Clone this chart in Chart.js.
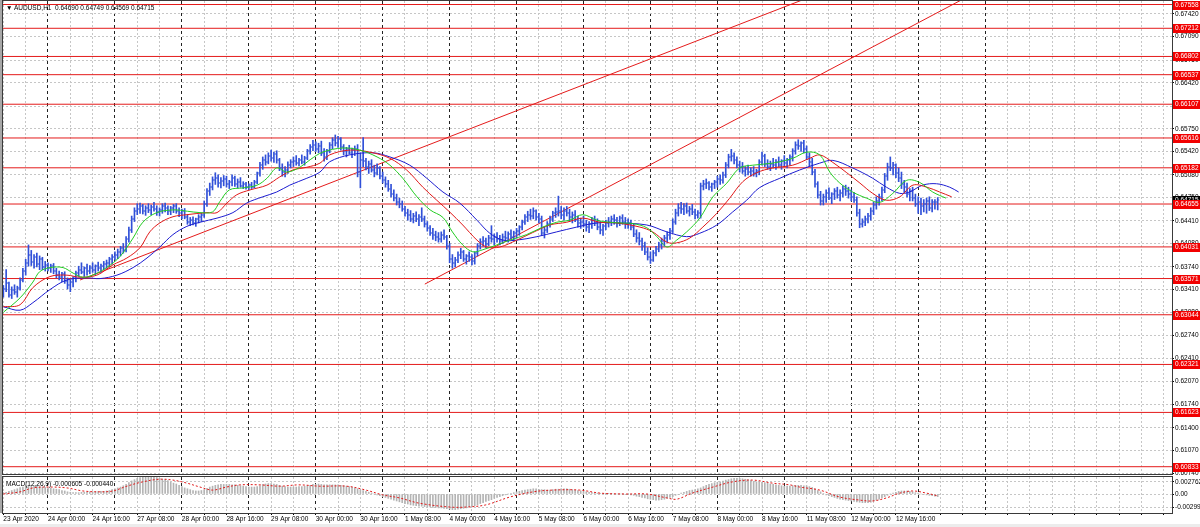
<!DOCTYPE html>
<html>
<head>
<meta charset="utf-8">
<script src="https://cdn.jsdelivr.net/npm/chart.js@4.4.0/dist/chart.umd.min.js"></script>
<style>
  body { margin: 0; background: #fff; }
  #wrap { position: relative; width: 1200px; height: 527px; overflow: hidden; background: #fff; }
  canvas { position: absolute; left: 0; }
  .txt { position: absolute; font: 6.5px "Liberation Sans", Arial, sans-serif; color: #000; white-space: pre; line-height: 8px; }
</style>
</head>
<body>
<div id="wrap">
  <canvas id="priceChart" width="1200" height="476" style="top:0"></canvas>
  <canvas id="macdChart" width="1200" height="51" style="top:476px"></canvas>
  <div style="position:absolute;left:0;top:0;width:2px;height:513px;background:#a8a8a8"></div>
  <div style="position:absolute;left:0;top:524px;width:1200px;height:3px;background:#ececec"></div>
  <div id="priceTitle" class="txt" style="left:6px;top:4px"></div>
  <div id="macdTitle" class="txt" style="left:6px;top:480px"></div>
</div>
<script>
const symbol = 'AUDUSD,H1';
const firstBarOpen = 0.6335;

// hourly bars, 23 Apr 08:00 .. 13 May 07:00
const highs = [
  0.6347,0.6370,0.6352,0.6345,0.6348,0.6346,0.6358,0.6372,0.6385,0.6406,0.6398,0.6392,
  0.6394,0.6390,0.6388,0.6382,0.6380,0.6378,0.6379,0.6372,0.6368,0.6366,0.6367,0.6358,
  0.6355,0.6360,0.6368,0.6375,0.6380,0.6374,0.6378,0.6376,0.6380,0.6377,0.6381,0.6378,
  0.6382,0.6384,0.6388,0.6392,0.6396,0.6400,0.6404,0.6408,0.6418,0.6432,0.6448,0.6460,
  0.6466,0.6467,0.6465,0.6463,0.6466,0.6464,0.6468,0.6463,0.6460,0.6466,0.6467,0.6463,
  0.6462,0.6465,0.6466,0.6460,0.6458,0.6459,0.6450,0.6446,0.6447,0.6445,0.6450,0.6452,
  0.6470,0.6488,0.6496,0.6505,0.6511,0.6508,0.6504,0.6507,0.6506,0.6500,0.6508,0.6506,
  0.6502,0.6504,0.6498,0.6497,0.6495,0.6497,0.6500,0.6512,0.6526,0.6534,0.6537,0.6540,
  0.6544,0.6541,0.6543,0.6532,0.6524,0.6520,0.6527,0.6530,0.6534,0.6536,0.6532,0.6537,
  0.6535,0.6545,0.6552,0.6558,0.6556,0.6554,0.6557,0.6546,0.6545,0.6555,0.6562,0.6566,
  0.6564,0.6562,0.6552,0.6548,0.6551,0.6547,0.6550,0.6552,0.6540,0.6562,0.6532,0.6528,
  0.6530,0.6522,0.6524,0.6520,0.6512,0.6505,0.6500,0.6494,0.6486,0.6480,0.6474,0.6470,
  0.6462,0.6458,0.6456,0.6452,0.6454,0.6450,0.6460,0.6448,0.6440,0.6434,0.6430,0.6426,
  0.6424,0.6425,0.6428,0.6420,0.6408,0.6392,0.6388,0.6396,0.6401,0.6398,0.6392,0.6396,
  0.6392,0.6396,0.6408,0.6415,0.6418,0.6416,0.6420,0.6434,0.6422,0.6424,0.6420,0.6422,
  0.6426,0.6425,0.6428,0.6426,0.6430,0.6434,0.6442,0.6450,0.6455,0.6458,0.6460,0.6457,
  0.6452,0.6448,0.6432,0.6440,0.6448,0.6455,0.6460,0.6477,0.6462,0.6460,0.6462,0.6458,
  0.6454,0.6456,0.6448,0.6445,0.6448,0.6442,0.6440,0.6446,0.6448,0.6444,0.6440,0.6436,
  0.6442,0.6446,0.6448,0.6450,0.6446,0.6448,0.6450,0.6446,0.6444,0.6442,0.6436,0.6428,
  0.6424,0.6416,0.6410,0.6402,0.6396,0.6398,0.6404,0.6410,0.6416,0.6420,0.6425,0.6430,
  0.6444,0.6458,0.6466,0.6468,0.6466,0.6467,0.6462,0.6465,0.6458,0.6456,0.6496,0.6500,
  0.6502,0.6498,0.6496,0.6500,0.6506,0.6508,0.6512,0.6526,0.6538,0.6545,0.6540,0.6534,
  0.6528,0.6526,0.6520,0.6522,0.6518,0.6520,0.6516,0.6530,0.6541,0.6538,0.6530,0.6528,
  0.6532,0.6530,0.6534,0.6530,0.6536,0.6532,0.6537,0.6546,0.6556,0.6559,0.6556,0.6558,
  0.6550,0.6540,0.6532,0.6516,0.6498,0.6484,0.6480,0.6486,0.6489,0.6482,0.6488,0.6490,
  0.6486,0.6492,0.6493,0.6490,0.6486,0.6482,0.6476,0.6458,0.6444,0.6448,0.6452,0.6460,
  0.6468,0.6476,0.6480,0.6490,0.6510,0.6525,0.6534,0.6526,0.6524,0.6518,0.6512,0.6500,
  0.6496,0.6488,0.6490,0.6480,0.6476,0.6474,0.6472,0.6474,0.6476,0.6472,0.6472,0.64749
];
const lows = [
  0.6330,0.6338,0.6330,0.6328,0.6334,0.6330,0.6340,0.6352,0.6362,0.6375,0.6376,0.6372,
  0.6374,0.6370,0.6370,0.6368,0.6368,0.6366,0.6364,0.6358,0.6355,0.6352,0.6350,0.6342,
  0.6338,0.6345,0.6352,0.6360,0.6364,0.6360,0.6362,0.6364,0.6366,0.6363,0.6368,0.6366,
  0.6370,0.6372,0.6374,0.6378,0.6384,0.6386,0.6390,0.6394,0.6396,0.6410,0.6424,0.6440,
  0.6450,0.6452,0.6451,0.6449,0.6453,0.6450,0.6455,0.6449,0.6448,0.6452,0.6454,0.6450,
  0.6450,0.6453,0.6452,0.6447,0.6444,0.6444,0.6436,0.6434,0.6435,0.6433,0.6438,0.6440,
  0.6446,0.6462,0.6478,0.6486,0.6494,0.6490,0.6489,0.6492,0.6490,0.6488,0.6492,0.6491,
  0.6489,0.6490,0.6488,0.6487,0.6486,0.6488,0.6489,0.6495,0.6506,0.6516,0.6522,0.6524,
  0.6528,0.6526,0.6525,0.6514,0.6506,0.6505,0.6510,0.6518,0.6520,0.6522,0.6521,0.6524,
  0.6522,0.6530,0.6538,0.6543,0.6542,0.6540,0.6536,0.6528,0.6530,0.6540,0.6546,0.6550,
  0.6548,0.6544,0.6537,0.6534,0.6538,0.6533,0.6536,0.6505,0.6489,0.6520,0.6515,0.6510,
  0.6512,0.6505,0.6508,0.6502,0.6496,0.6490,0.6484,0.6476,0.6470,0.6464,0.6460,0.6455,
  0.6448,0.6442,0.6440,0.6438,0.6440,0.6434,0.6440,0.6432,0.6426,0.6420,0.6414,0.6412,
  0.6410,0.6410,0.6414,0.6400,0.6380,0.6372,0.6374,0.6380,0.6386,0.6382,0.6378,0.6382,
  0.6377,0.6378,0.6390,0.6400,0.6404,0.6402,0.6405,0.6410,0.6406,0.6410,0.6406,0.6408,
  0.6412,0.6410,0.6414,0.6412,0.6416,0.6420,0.6428,0.6436,0.6440,0.6443,0.6444,0.6442,
  0.6438,0.6420,0.6416,0.6424,0.6432,0.6440,0.6446,0.6448,0.6444,0.6442,0.6448,0.6440,
  0.6438,0.6440,0.6432,0.6430,0.6432,0.6426,0.6424,0.6430,0.6434,0.6428,0.6422,0.6420,
  0.6428,0.6432,0.6434,0.6436,0.6432,0.6434,0.6436,0.6430,0.6430,0.6428,0.6418,0.6410,
  0.6406,0.6398,0.6392,0.6384,0.6379,0.6382,0.6390,0.6396,0.6400,0.6404,0.6410,0.6414,
  0.6424,0.6436,0.6448,0.6452,0.6450,0.6452,0.6448,0.6450,0.6444,0.6445,0.6445,0.6486,
  0.6488,0.6486,0.6484,0.6488,0.6490,0.6494,0.6496,0.6504,0.6518,0.6528,0.6524,0.6518,
  0.6512,0.6510,0.6506,0.6508,0.6506,0.6506,0.6505,0.6508,0.6522,0.6520,0.6516,0.6514,
  0.6518,0.6516,0.6520,0.6516,0.6520,0.6518,0.6522,0.6528,0.6538,0.6545,0.6542,0.6540,
  0.6530,0.6520,0.6508,0.6490,0.6474,0.6464,0.6464,0.6468,0.6472,0.6466,0.6472,0.6474,
  0.6470,0.6476,0.6478,0.6474,0.6470,0.6468,0.6448,0.6431,0.6432,0.6434,0.6438,0.6442,
  0.6450,0.6458,0.6464,0.6470,0.6482,0.6500,0.6514,0.6508,0.6504,0.6498,0.6488,0.6482,
  0.6476,0.6470,0.6470,0.6462,0.6452,0.6450,0.6454,0.6452,0.6456,0.6454,0.6458,0.64569
];
const closes = [
  0.6342,0.6350,0.6333,0.6340,0.6337,0.6344,0.6355,0.6368,0.6380,0.6392,0.6381,0.6388,
  0.6378,0.6385,0.6374,0.6377,0.6372,0.6375,0.6368,0.6362,0.6360,0.6364,0.6354,0.6348,
  0.6352,0.6358,0.6365,0.6370,0.6366,0.6372,0.6368,0.6373,0.6370,0.6375,0.6372,0.6376,
  0.6378,0.6380,0.6385,0.6389,0.6392,0.6395,0.6401,0.6398,0.6415,0.6428,0.6444,0.6455,
  0.6458,0.6462,0.6455,0.6460,0.6457,0.6461,0.6458,0.6454,0.6457,0.6463,0.6459,0.6456,
  0.6460,0.6462,0.6456,0.6452,0.6455,0.6447,0.6440,0.6442,0.6438,0.6443,0.6446,0.6449,
  0.6466,0.6484,0.6490,0.6500,0.6504,0.6496,0.6499,0.6502,0.6494,0.6497,0.6503,0.6495,
  0.6498,0.6492,0.6494,0.6490,0.6493,0.6491,0.6497,0.6510,0.6522,0.6530,0.6527,0.6536,
  0.6532,0.6538,0.6529,0.6518,0.6512,0.6515,0.6523,0.6526,0.6528,0.6525,0.6530,0.6527,
  0.6533,0.6542,0.6548,0.6552,0.6546,0.6550,0.6540,0.6534,0.6543,0.6552,0.6558,0.6555,
  0.6560,0.6548,0.6542,0.6545,0.6540,0.6544,0.6546,0.6512,0.6530,0.6528,0.6520,0.6524,
  0.6515,0.6510,0.6518,0.6506,0.6500,0.6494,0.6488,0.6480,0.6474,0.6468,0.6466,0.6458,
  0.6452,0.6450,0.6444,0.6448,0.6443,0.6446,0.6444,0.6436,0.6430,0.6424,0.6420,0.6418,
  0.6415,0.6420,0.6418,0.6404,0.6386,0.6380,0.6384,0.6392,0.6395,0.6386,0.6390,0.6388,
  0.6382,0.6394,0.6405,0.6410,0.6412,0.6408,0.6416,0.6414,0.6418,0.6415,0.6412,0.6418,
  0.6416,0.6422,0.6418,0.6424,0.6426,0.6432,0.6440,0.6446,0.6450,0.6448,0.6455,0.6446,
  0.6444,0.6424,0.6428,0.6436,0.6444,0.6452,0.6454,0.6456,0.6450,0.6455,0.6452,0.6446,
  0.6450,0.6442,0.6438,0.6440,0.6436,0.6432,0.6436,0.6442,0.6438,0.6432,0.6428,0.6434,
  0.6438,0.6440,0.6444,0.6442,0.6438,0.6445,0.6440,0.6436,0.6438,0.6432,0.6422,0.6416,
  0.6412,0.6404,0.6396,0.6388,0.6384,0.6394,0.6400,0.6406,0.6412,0.6416,0.6420,0.6426,
  0.6440,0.6452,0.6460,0.6458,0.6462,0.6456,0.6458,0.6454,0.6450,0.6452,0.6492,0.6494,
  0.6496,0.6490,0.6494,0.6498,0.6502,0.6500,0.6508,0.6522,0.6534,0.6536,0.6530,0.6522,
  0.6520,0.6514,0.6516,0.6512,0.6514,0.6510,0.6513,0.6526,0.6536,0.6524,0.6520,0.6524,
  0.6522,0.6526,0.6523,0.6528,0.6525,0.6530,0.6534,0.6542,0.6552,0.6550,0.6554,0.6546,
  0.6534,0.6526,0.6512,0.6494,0.6478,0.6470,0.6476,0.6482,0.6474,0.6480,0.6484,0.6478,
  0.6482,0.6488,0.6484,0.6480,0.6476,0.6472,0.6452,0.6436,0.6440,0.6444,0.6448,0.6456,
  0.6464,0.6470,0.6476,0.6486,0.6506,0.6520,0.6518,0.6522,0.6510,0.6504,0.6494,0.6490,
  0.6480,0.6484,0.6474,0.6466,0.6468,0.6462,0.6466,0.6470,0.6460,0.6468,0.6469,0.64715
];

// alligator lines: [bar, price]
const lipsLine = [
  [0,0.6308],[6,0.6329],[10.6,0.6352],[13,0.6367],[16.7,0.6373],[21.4,0.6373],[25,0.6365],[28.5,0.6359],
  [32,0.6362],[37,0.6373],[41.8,0.6389],[46.5,0.6416],[50,0.6439],[55,0.6453],[61,0.6457],[66,0.6455],
  [70.5,0.6453],[75,0.6454],[77.6,0.6469],[81,0.6486],[86,0.6489],[91,0.6493],[94.5,0.6503],[98,0.6518],
  [101.7,0.6512],[106.3,0.6519],[110,0.6530],[114.5,0.6541],[121.7,0.6547],[127.8,0.6544],[134,0.6534],
  [138.6,0.6522],[143.2,0.6503],[148.3,0.6476],[153,0.6457],[157.6,0.6446],[161,0.6425],[164.7,0.6406],
  [168.3,0.6396],[171.9,0.6399],[176.9,0.6406],[181.6,0.6413],[187.6,0.6421],[193.4,0.6432],[198.4,0.6439],
  [203,0.6442],[207.7,0.6450],[212.8,0.6442],[217.4,0.6439],[221,0.6438],[225.7,0.6437],[230.7,0.6431],
  [234.3,0.6418],[237.9,0.6403],[241.4,0.6413],[245,0.6425],[249.7,0.6445],[254.4,0.6476],[259.4,0.6496],
  [264,0.6518],[268.7,0.6522],[275.8,0.6525],[283,0.6532],[288,0.6541],[292.7,0.6537],[296.3,0.6512],
  [299.9,0.6496],[304.5,0.6483],[309.5,0.6474],[314.2,0.6468],[318.9,0.6481],[323.9,0.6500],[328.5,0.6497],
  [333.2,0.6483],[338,0.6474]
];
const teethLine = [
  [0,0.6316],[6,0.6319],[10.6,0.6344],[16.7,0.6360],[22.8,0.6362],[27.5,0.6359],[33.5,0.6362],[39.3,0.6377],
  [44.3,0.6387],[49,0.6402],[52.5,0.6425],[56.1,0.6438],[60.8,0.6447],[65.8,0.6450],[73,0.6453],[76.6,0.6453],
  [80.2,0.6467],[83.7,0.6479],[88.4,0.6486],[94.5,0.6493],[99.1,0.6505],[103.8,0.6515],[108.8,0.6519],
  [113.5,0.6525],[117,0.6537],[124.2,0.6544],[131.4,0.6541],[138.6,0.6532],[144.6,0.6515],[150.4,0.6490],
  [155.4,0.6471],[160,0.6454],[164.7,0.6435],[169.8,0.6413],[173.3,0.6403],[178,0.6403],[184.1,0.6413],
  [189.8,0.6424],[195.9,0.6435],[202,0.6439],[207.7,0.6445],[213.8,0.6439],[219.9,0.6438],[228.2,0.6432],
  [232.8,0.6425],[237.9,0.6410],[241.4,0.6409],[246.1,0.6416],[250.8,0.6432],[255.8,0.6452],[260.4,0.6474],
  [265.1,0.6498],[270.1,0.6511],[275.8,0.6518],[283,0.6522],[289.1,0.6532],[292.7,0.6537],[297.4,0.6526],
  [302.4,0.6511],[307.1,0.6496],[311.7,0.6481],[316.6,0.6471],[321.4,0.6476],[326.1,0.6493],[331.1,0.6490],
  [335.7,0.6483],[340,0.6476]
];
const jawLine = [
  [0,0.6316],[6,0.6311],[10.6,0.6322],[16.7,0.6341],[22.8,0.6355],[30,0.6358],[34.6,0.6357],[40.7,0.6362],
  [46.5,0.6373],[51.5,0.6387],[56.1,0.6403],[60.8,0.6421],[65.8,0.6433],[70.5,0.6439],[76.6,0.6445],
  [82.3,0.6453],[87.3,0.6467],[93,0.6476],[98,0.6483],[102.7,0.6493],[108.8,0.6503],[113.5,0.6512],
  [117,0.6527],[124.2,0.6537],[132.5,0.6540],[138.6,0.6534],[145.7,0.6522],[151.8,0.6503],[157.6,0.6483],
  [163.6,0.6467],[169.8,0.6442],[174.4,0.6423],[179.1,0.6413],[184.1,0.6413],[191.3,0.6418],[198.4,0.6425],
  [205.6,0.6432],[212.8,0.6438],[219.9,0.6438],[230.7,0.6435],[237.9,0.6425],[245,0.6418],[249.7,0.6423],
  [255.8,0.6435],[261.5,0.6454],[266.5,0.6471],[271,0.6489],[278.4,0.6503],[285.5,0.6515],[292.7,0.6525],
  [297.4,0.6529],[304.5,0.6518],[311.7,0.6503],[316.6,0.6490],[321.4,0.6481],[324.9,0.6483],[329.6,0.6493],
  [334.6,0.6495],[339.3,0.6490],[342.5,0.6483]
];

const levels = [0.67558, 0.67212, 0.66802, 0.66537, 0.66107, 0.65616, 0.65182,
                0.64655, 0.64031, 0.63571, 0.63044, 0.62321, 0.61623, 0.60833];
const trendLines = [
  [[27.5, 0.6355], [290, 0.6768]],
  [[151.1, 0.6349], [345, 0.67657]]
];

const priceTicks = [0.6742, 0.6709, 0.6675, 0.6642, 0.6608, 0.6575, 0.6542, 0.6508, 0.6475, 0.6441, 0.6408,
                    0.6374, 0.6341, 0.6308, 0.6274, 0.6241, 0.6207, 0.6174, 0.6140, 0.6107, 0.6074];
const timeLabels = ['23 Apr 2020', '24 Apr 00:00', '24 Apr 16:00', '27 Apr 08:00', '28 Apr 00:00', '28 Apr 16:00',
                    '29 Apr 08:00', '30 Apr 00:00', '30 Apr 16:00', '1 May 08:00', '4 May 00:00', '4 May 16:00',
                    '5 May 08:00', '6 May 00:00', '6 May 16:00', '7 May 08:00', '8 May 00:00', '8 May 16:00',
                    '11 May 08:00', '12 May 00:00', '12 May 16:00'];
const daySeparators = [16, 40, 64, 88, 112, 136, 160, 184, 208, 232, 256, 280, 304, 328, 352];

const macdMain = [
  0.0003,0.0004,0.0006,0.0008,0.0010,0.0012,0.0015,0.0016,0.0018,0.0019,0.0019,0.0018,
  0.0018,0.0017,0.0016,0.0015,0.0014,0.0013,0.0012,0.0011,0.0010,0.0008,0.0007,0.0005,
  0.0004,0.0003,0.0003,0.0003,0.0004,0.0004,0.0004,0.0005,0.0005,0.0005,0.0006,0.0006,
  0.0006,0.0007,0.0008,0.0010,0.0012,0.0014,0.0016,0.0019,0.0022,0.0026,0.0030,0.0033,
  0.0036,0.0038,0.0040,0.0040,0.0040,0.0039,0.0039,0.0038,0.0036,0.0034,0.0033,0.0031,
  0.0027,0.0025,0.0023,0.0020,0.0017,0.0014,0.0012,0.0010,0.0008,0.0007,0.0007,0.0008,
  0.0010,0.0013,0.0016,0.0018,0.0020,0.0021,0.0022,0.0022,0.0022,0.0022,0.0021,0.0021,
  0.0020,0.0019,0.0018,0.0017,0.0016,0.0016,0.0016,0.0017,0.0019,0.0022,0.0023,0.0024,
  0.0024,0.0023,0.0022,0.0020,0.0018,0.0017,0.0016,0.0016,0.0016,0.0016,0.0017,0.0017,
  0.0018,0.0019,0.0020,0.0022,0.0022,0.0023,0.0022,0.0021,0.0021,0.0021,0.0021,0.0021,
  0.0021,0.0020,0.0019,0.0018,0.0017,0.0016,0.0014,0.0012,0.0010,0.0008,0.0006,0.0004,
  0.0002,0.0000,-0.0002,-0.0004,-0.0006,-0.0008,-0.0010,-0.0012,-0.0014,-0.0016,-0.0018,-0.0020,
  -0.0022,-0.0023,-0.0025,-0.0026,-0.0027,-0.0028,-0.0028,-0.0029,-0.0030,-0.0030,-0.0031,-0.0031,
  -0.0032,-0.0032,-0.0033,-0.0034,-0.0035,-0.0036,-0.0036,-0.0035,-0.0034,-0.0033,-0.0032,-0.0030,
  -0.0029,-0.0027,-0.0025,-0.0022,-0.0020,-0.0017,-0.0015,-0.0013,-0.0010,-0.0008,-0.0006,-0.0004,
  -0.0002,0.0000,0.0001,0.0003,0.0005,0.0006,0.0008,0.0009,0.0010,0.0011,0.0012,0.0012,
  0.0011,0.0010,0.0010,0.0009,0.0009,0.0010,0.0011,0.0011,0.0012,0.0012,0.0012,0.0011,
  0.0010,0.0009,0.0008,0.0007,0.0006,0.0005,0.0004,0.0003,0.0002,0.0002,0.0001,0.0001,
  0.0001,0.0001,0.0001,0.0000,0.0000,0.0000,0.0000,-0.0001,-0.0001,-0.0002,-0.0003,-0.0005,
  -0.0006,-0.0008,-0.0009,-0.0011,-0.0012,-0.0013,-0.0014,-0.0014,-0.0013,-0.0012,-0.0010,-0.0008,
  -0.0006,-0.0003,-0.0001,0.0002,0.0004,0.0006,0.0008,0.0009,0.0010,0.0012,0.0014,0.0017,
  0.0020,0.0022,0.0024,0.0026,0.0027,0.0028,0.0030,0.0032,0.0033,0.0035,0.0036,0.0036,
  0.0036,0.0035,0.0034,0.0033,0.0031,0.0029,0.0028,0.0027,0.0027,0.0026,0.0025,0.0023,
  0.0022,0.0021,0.0020,0.0019,0.0018,0.0018,0.0018,0.0019,0.0020,0.0020,0.0020,0.0019,
  0.0019,0.0017,0.0015,0.0012,0.0008,0.0005,0.0001,-0.0002,-0.0004,-0.0006,-0.0008,-0.0010,
  -0.0012,-0.0013,-0.0014,-0.0015,-0.0016,-0.0017,-0.0018,-0.0019,-0.0020,-0.0020,-0.0020,-0.0019,
  -0.0016,-0.0014,-0.0012,-0.0009,-0.0006,-0.0003,0.0000,0.0002,0.0004,0.0006,0.0007,0.0007,
  0.0007,0.0006,0.0005,0.0003,0.0002,0.0000,-0.0001,-0.0002,-0.0003,-0.0004,-0.0005,-0.000605
];
const macdSignal = [
  [0,0.0000],[6,0.0005],[10.6,0.0014],[16.7,0.0016],[22.8,0.0014],[28.5,0.0007],[34.6,0.0005],[39.3,0.0007],
  [44.3,0.0018],[50,0.0028],[56,0.0034],[60.8,0.0032],[65.8,0.0025],[70.5,0.0016],[75,0.0009],[80,0.0016],
  [84.8,0.0021],[92,0.0021],[99,0.0018],[106,0.0021],[113.5,0.0018],[123,0.0018],[130,0.0009],[136,-0.0002],
  [142,-0.0009],[149,-0.0021],[160,-0.0030],[166,-0.0030],[173,-0.0025],[181.6,-0.0007],[190,0.0005],
  [197,0.0009],[206.7,0.0009],[214,0.0002],[223.5,0.0000],[230.7,0.0000],[237.9,-0.0009],[241.4,-0.0012],
  [247,0.0002],[254.4,0.0016],[261.5,0.0028],[268.7,0.0032],[275.8,0.0025],[282,0.0021],[285.5,0.0016],
  [292.7,0.0009],[299.9,-0.0007],[307,-0.0014],[311.7,-0.0016],[316.6,-0.0009],[321.4,0.0002],[326,0.0007],
  [331,0.0002],[335,-0.00044]
];
const macdTicks = [0.002762, 0, -0.00299];
const macdTickLabels = ['0.002762', '0.00', '-0.00299'];

// ---- view settings
const X_MIN = -0.49, X_MAX = 419;
const PRICE_MIN = 0.60727, PRICE_MAX = 0.67609;
const MACD_MIN = -0.00437, MACD_MAX = 0.00391;
const FONT = '"Liberation Sans", Arial, sans-serif';
const BAR_BLUE = '#3050d8';
const LEVEL_RED = '#e41b1b';
const GRID_GRAY = '#c6c6c6';
const FRAME = '#3a3a3a';

Chart.defaults.font.family = FONT;
Chart.defaults.font.size = 6.5;
Chart.defaults.color = '#000';

const bars = closes.map((c, i) => i);
const opens = closes.map((c, i) => i === 0 ? firstBarOpen : closes[i - 1]);
const last = closes.length - 1;

const gridBars = [];
for (let b = 0; b <= 416; b += 8) gridBars.push(b);

const isSeparator = ctx => ctx.tick && daySeparators.includes(ctx.tick.value);
const xGridColor = ctx => isSeparator(ctx) ? '#222' : GRID_GRAY;
const xGridDash = ctx => !ctx.tick ? [] : (isSeparator(ctx) ? [3, 3] : [2, 2]);

// keep the plot area exactly where the layout padding puts it
const noAxisPadding = s => { s.paddingTop = 0; s.paddingBottom = 0; s.paddingLeft = 0; s.paddingRight = 0; };

function xScale(showLabels) {
  return {
    type: 'linear',
    min: X_MIN,
    max: X_MAX,
    offset: false,
    afterBuildTicks: s => { s.ticks = gridBars.map(v => ({ value: v })); },
    afterFit: s => { s.height = showLabels ? 14 : 0; noAxisPadding(s); },
    ticks: {
      display: showLabels,
      autoSkip: false,
      maxRotation: 0,
      align: 'start',
      padding: 0,
      color: '#000',
      callback: v => (v % 16 === 0 && timeLabels[v / 16]) || ''
    },
    grid: {
      color: xGridColor,
      offset: false,
      drawTicks: showLabels,
      tickLength: 2,
      tickColor: '#000',
      tickBorderDash: []
    },
    border: { display: true, color: FRAME, dash: xGridDash }
  };
}

function yScale(min, max, ticks, label) {
  return {
    position: 'right',
    min: min,
    max: max,
    afterBuildTicks: s => { s.ticks = ticks.map(v => ({ value: v })); },
    afterFit: s => { s.width = 28; noAxisPadding(s); },
    ticks: { color: '#000', padding: 1, autoSkip: false, callback: label },
    grid: { color: GRID_GRAY, tickColor: '#000', tickLength: 2, tickBorderDash: [] },
    border: { display: true, color: FRAME, dash: [2, 2] }
  };
}

const frame = {
  id: 'frame',
  afterDraw(chart) {
    const { ctx, chartArea: a } = chart;
    ctx.save();
    ctx.strokeStyle = FRAME;
    ctx.lineWidth = 1;
    ctx.strokeRect(a.left + 0.5, a.top - 0.5, a.right - a.left, a.bottom - a.top + 1);
    ctx.restore();
  }
};

// open / close ticks of each bar
const ohlcTicks = {
  id: 'ohlcTicks',
  afterDatasetDraw(chart, args) {
    if (args.meta.type !== 'bar') return;
    const { ctx, scales: { x, y } } = chart;
    ctx.save();
    ctx.fillStyle = BAR_BLUE;
    bars.forEach(i => {
      const px = x.getPixelForValue(i);
      ctx.fillRect(px - 1.5, Math.round(y.getPixelForValue(opens[i])) - 0.5, 1, 1);
      ctx.fillRect(px + 0.5, Math.round(y.getPixelForValue(closes[i])) - 0.5, 1, 1);
    });
    ctx.restore();
  }
};

// price tags on the right axis
const axisTags = {
  id: 'axisTags',
  afterDraw(chart) {
    const { ctx, scales: { y }, chartArea } = chart;
    ctx.save();
    ctx.font = '6.5px ' + FONT;
    ctx.textBaseline = 'middle';
    const tag = (value, bg) => {
      const py = Math.round(y.getPixelForValue(value));
      ctx.fillStyle = bg;
      ctx.fillRect(chartArea.right + 1, py - 4, 28, 9);
      ctx.fillStyle = '#fff';
      ctx.fillText(value.toFixed(5), chartArea.right + 3, py + 0.5);
    };
    tag(closes[last], '#000');
    levels.forEach(l => tag(l, '#f20000'));
    ctx.restore();
  }
};

const priceDatasets = [];
levels.forEach(l => priceDatasets.push({
  type: 'line', data: [{ x: X_MIN, y: l }, { x: X_MAX, y: l }],
  borderColor: LEVEL_RED, borderWidth: 1, pointRadius: 0, order: 6
}));
trendLines.forEach(t => priceDatasets.push({
  type: 'line', data: t.map(([x, y]) => ({ x, y })),
  borderColor: LEVEL_RED, borderWidth: 1, pointRadius: 0, order: 5
}));
priceDatasets.push({
  type: 'bar',
  data: bars.map(i => ({ x: i, y: [lows[i], highs[i]] })),
  backgroundColor: BAR_BLUE,
  barThickness: 1,
  grouped: false,
  order: 4
});
[[jawLine, '#1c1cd0'], [teethLine, '#e01818'], [lipsLine, '#22cc22']].forEach(([line, color], k) => {
  priceDatasets.push({
    type: 'line', data: line.map(([x, y]) => ({ x, y })),
    borderColor: color, borderWidth: 1, pointRadius: 0, tension: 0.35, order: 3 - k
  });
});

new Chart(document.getElementById('priceChart'), {
  type: 'bar',
  data: { datasets: priceDatasets },
  options: {
    responsive: false,
    animation: false,
    devicePixelRatio: 1,
    events: [],
    layout: { padding: { top: 1, left: 2, right: 0, bottom: 2 } },
    plugins: { legend: { display: false }, tooltip: { enabled: false } },
    scales: {
      x: xScale(false),
      y: yScale(PRICE_MIN, PRICE_MAX, priceTicks, v => v.toFixed(5))
    }
  },
  plugins: [ohlcTicks, frame, axisTags]
});

new Chart(document.getElementById('macdChart'), {
  type: 'bar',
  data: {
    datasets: [
      {
        type: 'line',
        data: macdSignal.map(([x, y]) => ({ x, y })),
        borderColor: '#e01818', borderWidth: 1, borderDash: [2, 2],
        pointRadius: 0, tension: 0.35, order: 1
      },
      {
        type: 'bar',
        data: bars.map(i => ({ x: i, y: macdMain[i] })),
        backgroundColor: '#b4b4b4',
        barThickness: 1,
        grouped: false,
        order: 2
      }
    ]
  },
  options: {
    responsive: false,
    animation: false,
    devicePixelRatio: 1,
    events: [],
    layout: { padding: { top: 1, left: 2, right: 0, bottom: 0 } },
    plugins: { legend: { display: false }, tooltip: { enabled: false } },
    scales: {
      x: xScale(true),
      y: yScale(MACD_MIN, MACD_MAX, macdTicks, (v, i) => macdTickLabels[i])
    }
  },
  plugins: [frame]
});

document.getElementById('priceTitle').textContent =
  '\u25BC ' + symbol + '  ' + [opens[last], highs[last], lows[last], closes[last]].map(v => v.toFixed(5)).join(' ');
document.getElementById('macdTitle').textContent =
  'MACD(12,26,9) ' + macdMain[last].toFixed(6) + ' ' + macdSignal[macdSignal.length - 1][1].toFixed(6);
</script>
</body>
</html>
